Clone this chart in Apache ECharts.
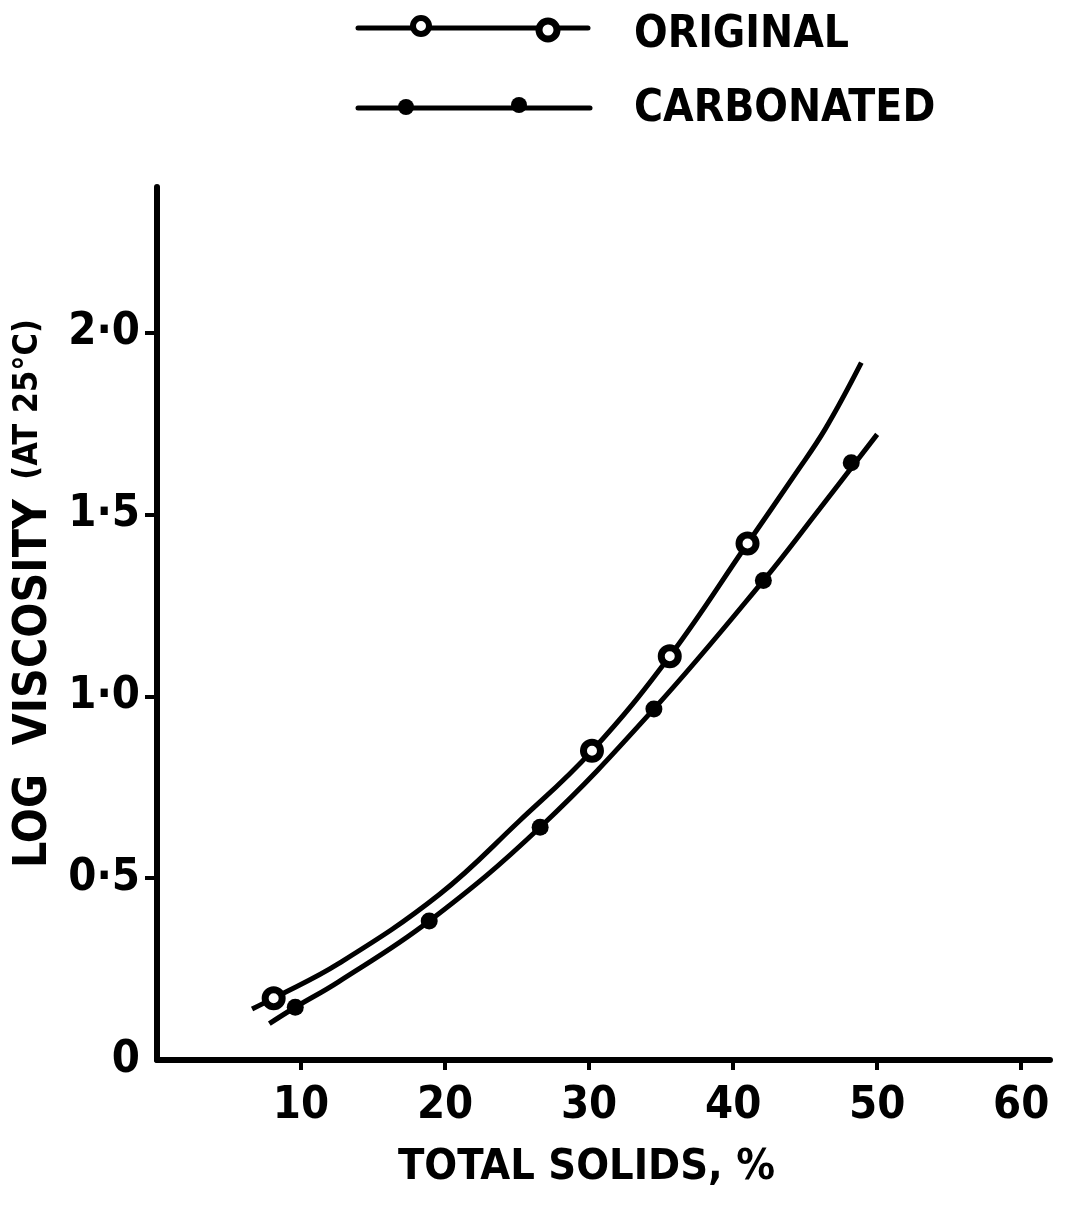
<!DOCTYPE html>
<html>
<head>
<meta charset="utf-8">
<title>Log viscosity vs total solids</title>
<script src="https://cdn.jsdelivr.net/npm/echarts@6/dist/echarts.min.js"></script>
<style>
  html, body { margin: 0; padding: 0; background: #fff; }
  #chart { width: 1068px; height: 1206px; }
</style>
</head>
<body>
<div id="chart"></div>
<script>
// fitted curves
const origCurveX = [6.6, 8.1, 12.6, 19.6, 25.1, 30.2, 35.6, 41.0, 44.3, 46.4, 48.9]
const origCurveY = [0.14, 0.17, 0.265, 0.455, 0.655, 0.85, 1.11, 1.42, 1.61, 1.735, 1.917]
const carbCurveX = [7.8, 9.6, 12.6, 18.9, 26.6, 34.5, 42.1, 46.0, 50.0]
const carbCurveY = [0.10, 0.145, 0.215, 0.382, 0.64, 0.965, 1.318, 1.515, 1.72]

// measured points
const origPointX = [8.1, 30.2, 35.6, 41.0]
const origPointY = [0.17, 0.85, 1.11, 1.42]
const carbPointX = [9.6, 18.9, 26.6, 34.5, 42.1, 48.2]
const carbPointY = [0.145, 0.382, 0.64, 0.965, 1.318, 1.642]

// ticks
const xTicks = [10, 20, 30, 40, 50, 60]
const xTickLabels = ['10', '20', '30', '40', '50', '60']
const yTicks = [0, 0.5, 1, 1.5, 2]
const yTickLabels = ['0', '0·5', '1·0', '1·5', '2·0']

const seriesNames = ['ORIGINAL', 'CARBONATED']

const FONT = '"Liberation Sans Narrow", "DejaVu Sans Condensed", "Liberation Sans", sans-serif'

function zip(xs, ys) {
  return xs.map((x, i) => [x, ys[i]])
}

const chart = echarts.init(document.getElementById('chart'))

const legendLine = { stroke: '#000', lineWidth: 5, lineCap: 'round' }

const option = {
  backgroundColor: '#fff',
  animation: false,
  grid: { left: 157, right: 18, top: 187, bottom: 146, containLabel: false, outerBoundsMode: 'none' },
  xAxis: {
    type: 'value',
    min: 0,
    max: 62,
    name: 'TOTAL SOLIDS, %',
    nameLocation: 'middle',
    nameGap: 86,
    nameTextStyle: {
      fontFamily: FONT, fontWeight: 'bold', fontSize: 43, color: '#000',
      padding: [0, 34, 0, 0]
    },
    splitLine: { show: false },
    axisLine: { lineStyle: { color: '#000', width: 6 } },
    axisTick: {
      customValues: xTicks,
      length: 10,
      lineStyle: { color: '#000', width: 4 }
    },
    axisLabel: {
      customValues: xTicks,
      margin: 24,
      fontFamily: FONT, fontWeight: 'bold', fontSize: 45, color: '#000',
      formatter: v => xTickLabels[xTicks.indexOf(v)] ?? ''
    }
  },
  yAxis: {
    type: 'value',
    min: 0,
    max: 2.4,
    name: '{a|LOG  VISCOSITY} {b|(AT 25°C)}',
    nameLocation: 'middle',
    nameRotate: 90,
    nameGap: 92,
    nameTextStyle: {
      color: '#000',
      rich: {
        a: { fontFamily: FONT, fontWeight: 'bold', fontSize: 46, color: '#000', padding: [0, 0, 0, 60] },
        b: { fontFamily: FONT, fontWeight: 'bold', fontSize: 34, color: '#000', verticalAlign: 'top', padding: [0, 0, 0, 16] }
      }
    },
    splitLine: { show: false },
    axisLine: { lineStyle: { color: '#000', width: 6 } },
    axisTick: {
      customValues: yTicks.slice(1),
      length: 12,
      lineStyle: { color: '#000', width: 4 }
    },
    axisLabel: {
      customValues: yTicks,
      margin: 17,
      fontFamily: FONT, fontWeight: 'bold', fontSize: 45, color: '#000',
      formatter: v => yTickLabels[yTicks.indexOf(v)] ?? ''
    }
  },
  series: [
    {
      name: seriesNames[0] + ' curve',
      type: 'line',
      smooth: 0.4,
      showSymbol: false,
      lineStyle: { color: '#000', width: 5 },
      data: zip(origCurveX, origCurveY)
    },
    {
      name: seriesNames[1] + ' curve',
      type: 'line',
      smooth: 0.4,
      showSymbol: false,
      lineStyle: { color: '#000', width: 5 },
      data: zip(carbCurveX, carbCurveY)
    },
    {
      name: seriesNames[0],
      type: 'scatter',
      symbol: 'circle',
      symbolSize: 17,
      z: 5,
      itemStyle: { color: '#fff', borderColor: '#000', borderWidth: 7, opacity: 1 },
      data: zip(origPointX, origPointY)
    },
    {
      name: seriesNames[1],
      type: 'scatter',
      symbol: 'circle',
      symbolSize: 17,
      z: 5,
      itemStyle: { color: '#000', opacity: 1 },
      data: zip(carbPointX, carbPointY)
    }
  ],
  // hand-drawn style key at the top
  graphic: [
    { type: 'line', shape: { x1: 358, y1: 28, x2: 588, y2: 28 }, style: legendLine },
    { type: 'circle', shape: { cx: 421, cy: 26, r: 8 }, style: { fill: '#fff', stroke: '#000', lineWidth: 6 } },
    { type: 'circle', shape: { cx: 548, cy: 30, r: 9 }, style: { fill: '#fff', stroke: '#000', lineWidth: 7 } },
    {
      type: 'text', left: 634, top: 14,
      style: { text: seriesNames[0], fontFamily: FONT, fontWeight: 'bold', fontSize: 44, fill: '#000' }
    },
    { type: 'line', shape: { x1: 358, y1: 108, x2: 590, y2: 108 }, style: legendLine },
    { type: 'circle', shape: { cx: 406, cy: 107, r: 8 }, style: { fill: '#000' } },
    { type: 'circle', shape: { cx: 519, cy: 105, r: 8 }, style: { fill: '#000' } },
    {
      type: 'text', left: 634, top: 88,
      style: { text: seriesNames[1], fontFamily: FONT, fontWeight: 'bold', fontSize: 44, fill: '#000' }
    }
  ]
}

chart.setOption(option)
window.addEventListener('resize', () => chart.resize())
</script>
</body>
</html>
